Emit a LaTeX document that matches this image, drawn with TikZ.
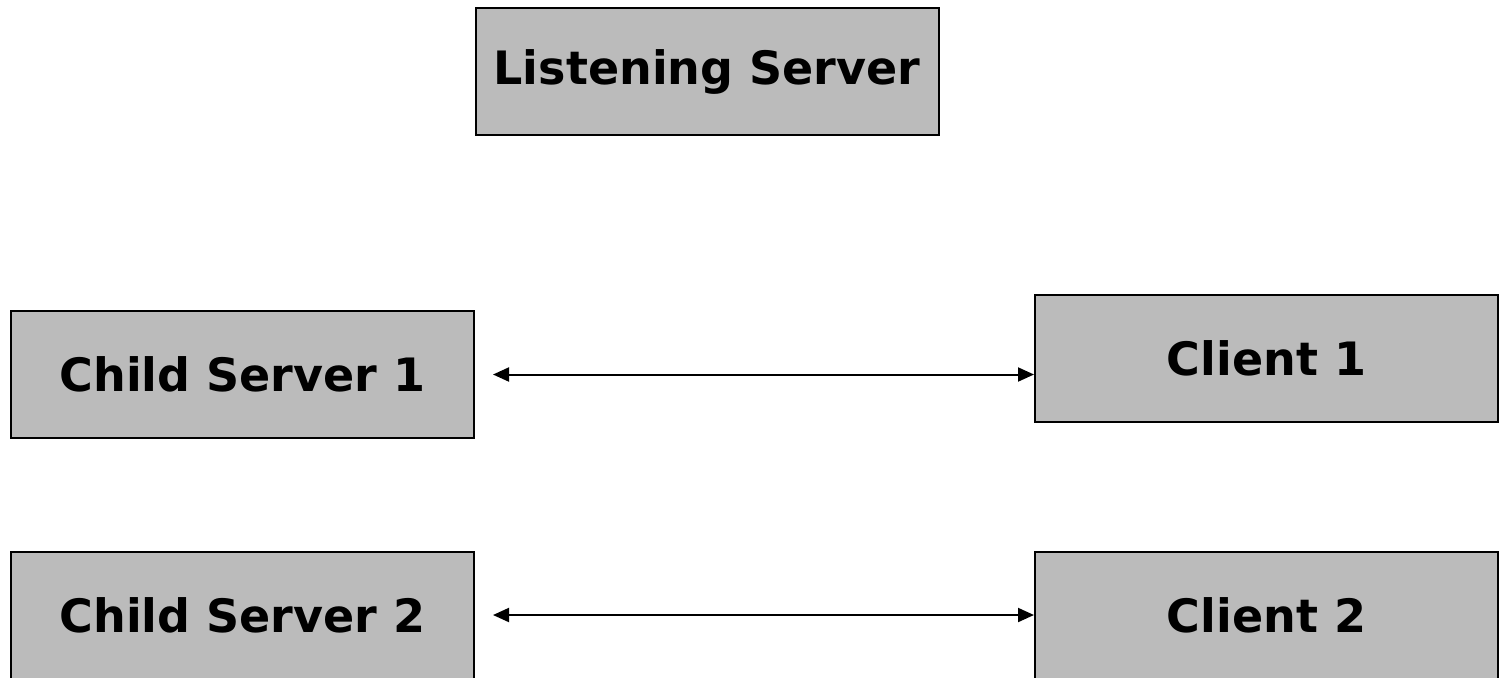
\documentclass[tikz,border=0pt]{standalone}
\usepackage{fontspec}
\setmainfont{DejaVu Sans}
\usetikzlibrary{arrows.meta}
\definecolor{boxgray}{RGB}{187,187,187}
\tikzset{
  box/.style={draw=black, line width=1pt, fill=boxgray, minimum width=231.5pt, minimum height=63.5pt, inner sep=0pt, font=\bfseries\fontsize{23}{27}\selectfont},
  cutbox/.style={box, minimum height=0pt, anchor=north, text height=40pt, text depth=36pt},
  link/.style={line width=1pt, {Triangle[length=8pt,width=7pt]}-{Triangle[length=8pt,width=7pt]}}
}
\begin{document}
\begin{tikzpicture}[x=0.5pt,y=-0.5pt]
\clip (0,0) rectangle (1499,677);
\useasboundingbox (0,0) rectangle (1499,677);
\node[box] (ls) at (707,71.5) {Listening Server};
\node[box] (cs1) at (242.5,374.5) {Child Server 1};
\node[box] (c1) at (1266.5,358.5) {Client 1};
\node[cutbox] (cs2) at (242.5,551) {Child Server 2};
\node[cutbox] (c2) at (1266.5,551) {Client 2};
\coordinate (a2) at (cs2.east |- 0,615);
\draw[link, shorten <=9pt] (cs1.east) -- (cs1.east -| c1.west);
\draw[link, shorten <=9pt] (a2) -- (a2 -| c2.west);
\end{tikzpicture}
\end{document}
